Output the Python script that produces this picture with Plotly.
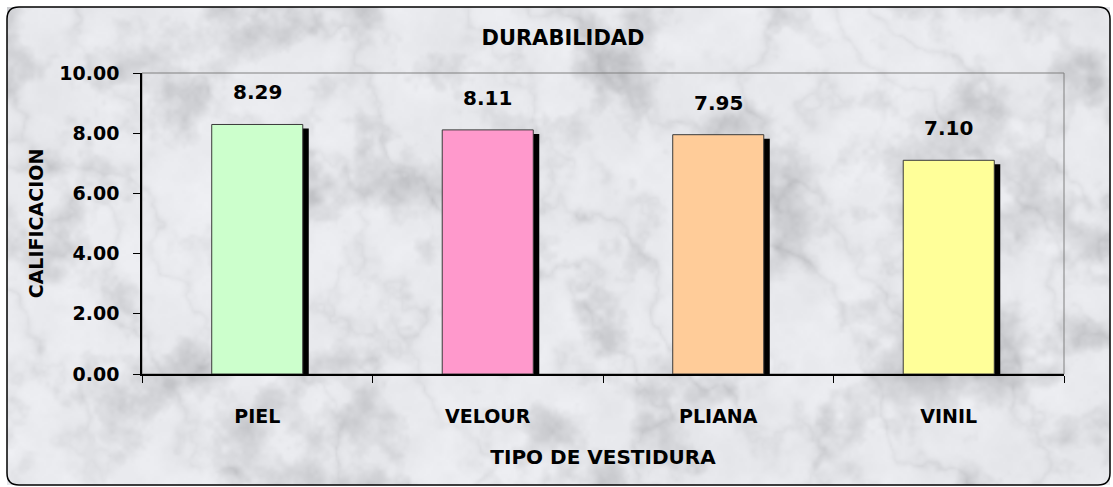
import base64, struct, zlib
import numpy as np
import plotly.graph_objects as go

# ---- data ----
categories = ["PIEL", "VELOUR", "PLIANA", "VINIL"]
values = [8.29, 8.11, 7.95, 7.10]
bar_colors = ["#CCFFCC", "#FF99CC", "#FFCC99", "#FFFF99"]
y_ticks = [0, 2, 4, 6, 8, 10]

# ---- geometry (pixels) ----
FW, FH = 1113, 487
ML, MR, MT, MB = 142, 49, 73, 113
PW, PH = FW - ML - MR, FH - MT - MB

def px_x(x):
    return (x - ML) / PW

def px_y(y):
    return (FH - MB - y) / PH

# ---- marble texture (style only) ----
def marble(h, w):
    rng = np.random.default_rng(5)

    def snoise(cell):
        gh, gw = h // cell + 3, w // cell + 3
        g = rng.random((gh, gw))
        ys = np.arange(h) / cell
        xs = np.arange(w) / cell
        y0 = np.floor(ys).astype(int)
        x0 = np.floor(xs).astype(int)
        fy = ys - y0
        fx = xs - x0
        fy = fy * fy * (3 - 2 * fy)
        fx = fx * fx * (3 - 2 * fx)
        a = g[y0][:, x0]
        b = g[y0][:, x0 + 1]
        c = g[y0 + 1][:, x0]
        d = g[y0 + 1][:, x0 + 1]
        top = a + (b - a) * fx[None, :]
        bot = c + (d - c) * fx[None, :]
        return top + (bot - top) * fy[:, None]

    def fbm(cells, gain=0.55):
        out = np.zeros((h, w))
        amp, tot = 1.0, 0.0
        for cell in cells:
            out += amp * snoise(cell)
            tot += amp
            amp *= gain
        return out / tot

    turb = fbm([50, 25, 12, 6, 3])
    Y, X = np.mgrid[0:h, 0:w]
    v = np.abs(np.sin((X * 1.0 - Y * 0.9) * 0.045 + turb * 8))
    vein = (1 - v) ** 3
    cloud = fbm([30, 15, 8, 4, 2], 0.6)
    streak = fbm([20, 10, 5, 2], 0.6)
    val = (236 - 14 * vein * (0.4 + streak)
           - 120 * np.clip(cloud - 0.5, 0, 1)
           - 16 * (streak - 0.5))
    val = np.clip(val, 170, 248)
    img = np.stack([val - 2, val - 1, val + 3], axis=-1)
    return np.clip(img, 0, 255).astype(np.uint8)

def png_uri(arr):
    h, w, _ = arr.shape
    raw = b"".join(b"\x00" + arr[i].tobytes() for i in range(h))

    def chunk(t, d):
        c = struct.pack(">I", len(d)) + t + d
        return c + struct.pack(">I", zlib.crc32(t + d) & 0xFFFFFFFF)

    png = (b"\x89PNG\r\n\x1a\n"
           + chunk(b"IHDR", struct.pack(">IIBBBBB", w, h, 8, 2, 0, 0, 0))
           + chunk(b"IDAT", zlib.compress(raw, 9))
           + chunk(b"IEND", b""))
    return "data:image/png;base64," + base64.b64encode(png).decode()

BX0, BY0, BX1, BY1 = 7, 7, 1110, 485
tex = png_uri(marble((BY1 - BY0) // 2, (BX1 - BX0) // 2))

FONT = "DejaVu Sans"
xpos = list(range(len(categories)))
bar_w = 0.395
sh_dx = 6 / (PW / len(categories))
sh_dy = 4 / (PH / 10)

fig = go.Figure()
fig.add_trace(go.Bar(
    x=[x + sh_dx for x in xpos], y=[v - sh_dy for v in values],
    width=bar_w, marker=dict(color="black", line=dict(width=0)),
    hoverinfo="skip", showlegend=False))
fig.add_trace(go.Bar(
    x=xpos, y=values, width=bar_w,
    marker=dict(color=bar_colors, line=dict(color="#3a3a3a", width=1)),
    showlegend=False))

for x, v in zip(xpos, values):
    fig.add_annotation(x=x, y=v, text=f"{v:.2f}", showarrow=False,
                       yshift=32,
                       font=dict(family=FONT, size=20, color="black",
                                 weight="bold"))

# rounded outer border
r = 12
x0, x1 = px_x(BX0), px_x(BX1)
y0, y1 = px_y(BY1), px_y(BY0)
rx, ry = r / PW, r / PH
path = (f"M {x0+rx},{y1} L {x1-rx},{y1} Q {x1},{y1} {x1},{y1-ry} "
        f"L {x1},{y0+ry} Q {x1},{y0} {x1-rx},{y0} L {x0+rx},{y0} "
        f"Q {x0},{y0} {x0},{y0+ry} L {x0},{y1-ry} Q {x0},{y1} {x0+rx},{y1} Z")
fig.add_shape(type="path", path=path, xref="paper", yref="paper",
              line=dict(color="black", width=1.5), layer="above")
# plot-area frame (top/right grey)
fig.add_shape(type="rect", x0=0, x1=1, y0=0, y1=1, xref="paper", yref="paper",
              line=dict(color="#808080", width=1), layer="below")

fig.add_layout_image(dict(source=tex, xref="paper", yref="paper",
                          x=x0, y=y1, sizex=x1 - x0, sizey=y1 - y0,
                          xanchor="left", yanchor="top", sizing="stretch",
                          layer="below"))

fig.update_layout(
    width=FW, height=FH,
    margin=dict(l=ML, r=MR, t=MT, b=MB, autoexpand=False),
    paper_bgcolor="white", plot_bgcolor="rgba(0,0,0,0)",
    barmode="overlay",
    font=dict(family=FONT, color="black"),
    title=dict(text="DURABILIDAD", x=563 / FW,
               xanchor="center", y=1 - 38 / FH, yanchor="middle",
               font=dict(family=FONT, size=21, color="black", weight="bold")),
    xaxis=dict(
        range=[-0.5, len(categories) - 0.5],
        tickvals=xpos, ticktext=categories,
        ticks="", ticklabelstandoff=24,
        tickfont=dict(family=FONT, size=19, color="black", weight="bold"),
        minor=dict(tick0=0.5, dtick=1, ticks="outside", ticklen=7,
                   tickcolor="black", showgrid=False),
        showline=True, linecolor="black", linewidth=1.5,
        showgrid=False, zeroline=False,
        title=dict(text="TIPO DE VESTIDURA", standoff=24,
                   font=dict(family=FONT, size=20, color="black",
                             weight="bold")),
    ),
    yaxis=dict(
        range=[0, 10], tickvals=y_ticks, tickformat=".2f",
        ticks="outside", ticklen=7, tickcolor="black",
        ticklabelstandoff=10,
        tickfont=dict(family=FONT, size=19, color="black", weight="bold"),
        showline=True, linecolor="black", linewidth=1.5,
        showgrid=False, zeroline=False,
        title=dict(text="CALIFICACION", standoff=11,
                   font=dict(family=FONT, size=19, color="black",
                             weight="bold")),
    ),
)

fig.write_html("out.html", config={"displayModeBar": False},
               post_script="document.body.style.margin='0';"
                           "document.body.style.overflow='hidden';")
